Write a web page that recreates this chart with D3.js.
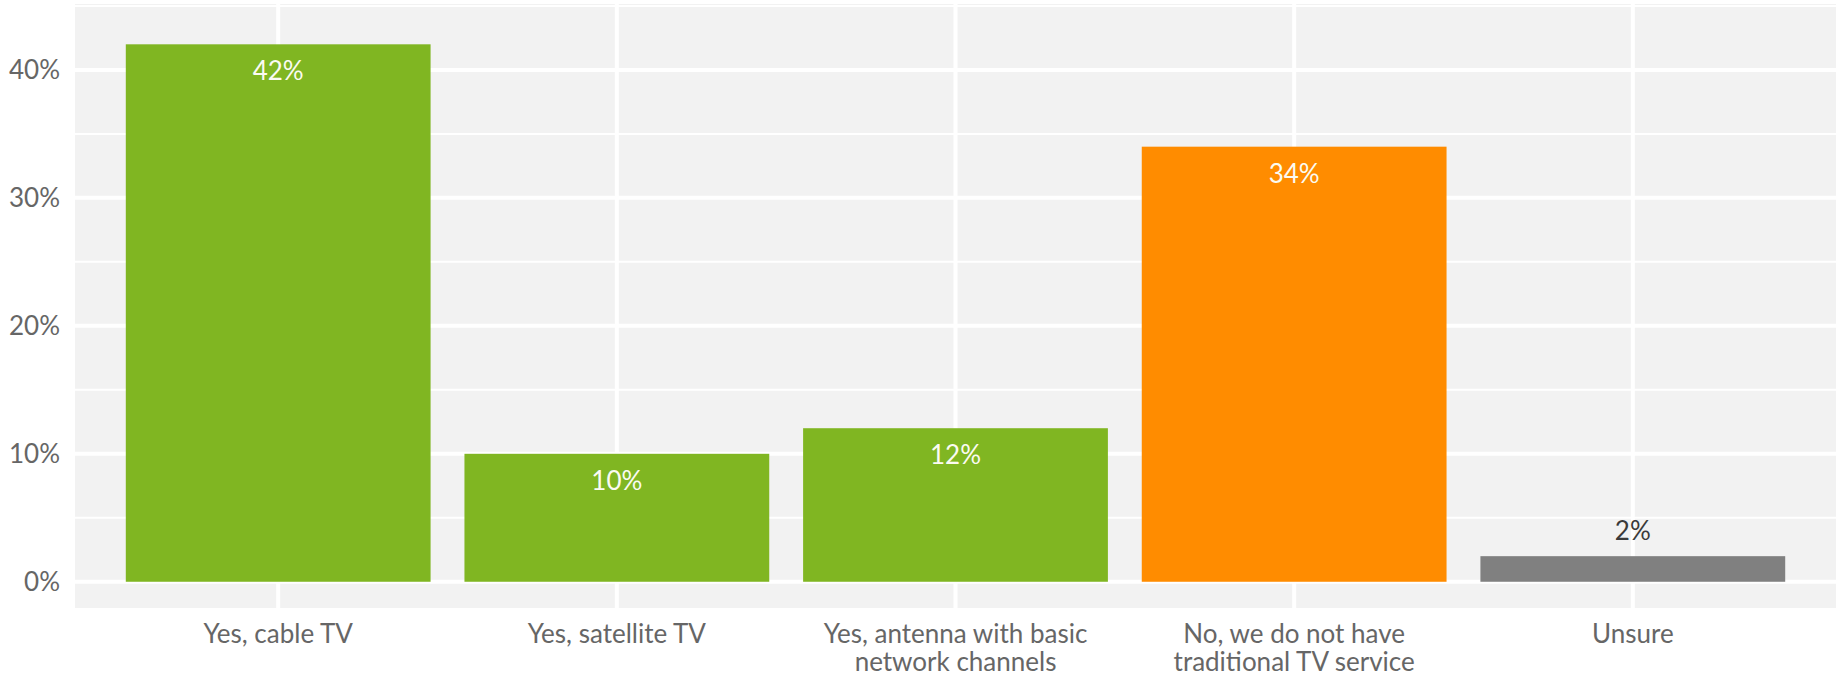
<!DOCTYPE html>
<html>
<head>
<meta charset="utf-8">
<script src="https://cdn.jsdelivr.net/npm/d3@7"></script>
<style>
  html, body { margin: 0; padding: 0; background: #ffffff; }
  svg { display: block; font-family: Lato, "Open Sans", sans-serif; }
</style>
</head>
<body>
<svg id="chart" width="1841" height="676"></svg>
<script>
// Survey answers: does the household have traditional TV service?
const categories = [
  "Yes, cable TV",
  "Yes, satellite TV",
  "Yes, antenna with basic|network channels",
  "No, we do not have|traditional TV service",
  "Unsure"
];
const shares = [42, 10, 12, 34, 2];
const barGroups = ["yes", "yes", "yes", "no", "unsure"];
const majorTicks = [0, 10, 20, 30, 40];
const minorTicks = [5, 15, 25, 35, 45];

const colors = { yes: "#80b622", no: "#ff8c00", unsure: "#808080" };

const svg = d3.select("#chart");
const panel = { left: 75, right: 1836, top: 4, bottom: 608 };

// discrete axis: 0.6 category units of space on each side, bars 90% of a step
const step = (panel.right - panel.left) / (categories.length - 1 + 1.2);
const x = d3.scaleBand()
  .domain(categories)
  .range([panel.left + 0.1 * step, panel.right - 0.1 * step])
  .paddingInner(0.1)
  .paddingOuter(0.05);

const y = d3.scaleLinear()
  .domain([-2.05, 45.15])
  .range([panel.bottom, panel.top]);

// panel background
svg.append("rect")
  .attr("x", panel.left).attr("y", panel.top)
  .attr("width", panel.right - panel.left)
  .attr("height", panel.bottom - panel.top)
  .attr("fill", "#f2f2f2");

const grid = svg.append("g");
grid.selectAll("line.minor").data(minorTicks).join("line")
  .attr("x1", panel.left).attr("x2", panel.right)
  .attr("y1", d => y(d)).attr("y2", d => y(d))
  .attr("stroke", "#ffffff").attr("stroke-width", 2);
grid.selectAll("line.major").data(majorTicks).join("line")
  .attr("x1", panel.left).attr("x2", panel.right)
  .attr("y1", d => y(d)).attr("y2", d => y(d))
  .attr("stroke", "#ffffff").attr("stroke-width", 4);
grid.selectAll("line.vert").data(categories).join("line")
  .attr("x1", d => x(d) + x.bandwidth() / 2).attr("x2", d => x(d) + x.bandwidth() / 2)
  .attr("y1", panel.top).attr("y2", panel.bottom)
  .attr("stroke", "#ffffff").attr("stroke-width", 4);

// bars
const data = categories.map((c, i) => ({ cat: c, value: shares[i], group: barGroups[i] }));
svg.append("g").selectAll("rect").data(data).join("rect")
  .attr("x", d => x(d.cat))
  .attr("width", x.bandwidth())
  .attr("y", d => y(d.value))
  .attr("height", d => y(0) - y(d.value))
  .attr("fill", d => colors[d.group]);

// value labels: inside tall bars, above the short one
svg.append("g").selectAll("text").data(data).join("text")
  .attr("x", d => x(d.cat) + x.bandwidth() / 2)
  .attr("y", d => d.value >= 5 ? y(d.value) + 36 : y(d.value) - 16)
  .attr("text-anchor", "middle")
  .attr("font-size", 26)
  .attr("fill", d => d.value >= 5 ? "#fbfbf2" : "#3a3a3a")
  .text(d => d.value + "%");

// y axis labels
const yAxis = svg.append("g")
  .attr("transform", `translate(${panel.left},0)`)
  .call(d3.axisLeft(y).tickValues(majorTicks).tickFormat(d => d + "%").tickSize(0).tickPadding(15));
yAxis.select(".domain").remove();
yAxis.selectAll("text")
  .attr("font-size", 26)
  .attr("font-family", "Lato, sans-serif")
  .attr("fill", "#666666");

// x axis labels (two-line where needed)
const xAxis = svg.append("g")
  .attr("transform", `translate(0,${panel.bottom})`)
  .call(d3.axisBottom(x).tickSize(0).tickFormat(""));
xAxis.select(".domain").remove();
xAxis.selectAll(".tick").each(function(d) {
  const t = d3.select(this).append("text")
    .attr("text-anchor", "middle")
    .attr("font-size", 26)
    .attr("font-family", "Lato, sans-serif")
    .attr("fill", "#666666");
  d.split("|").forEach((line, i) => {
    t.append("tspan").attr("x", 0).attr("y", 35 + i * 28).text(line);
  });
});
</script>
</body>
</html>
